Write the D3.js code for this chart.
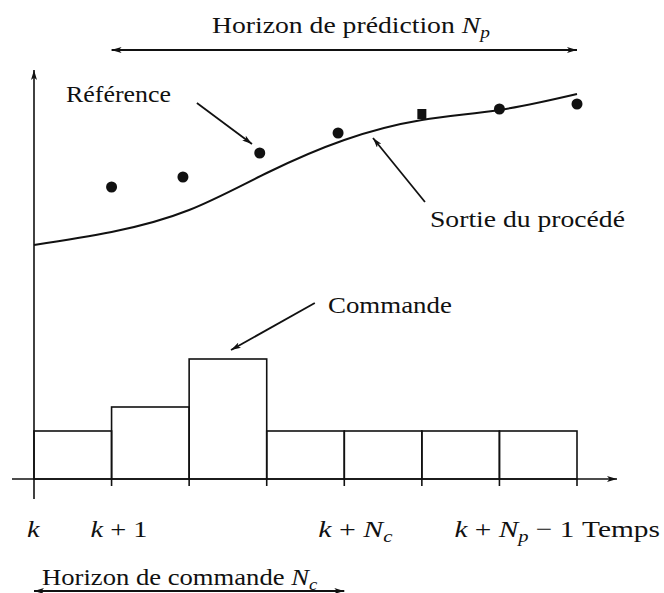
<!DOCTYPE html>
<html>
<head>
<meta charset="utf-8">
<script src="https://cdn.jsdelivr.net/npm/d3@7"></script>
<style>
  html, body { margin: 0; padding: 0; background: #fff; }
  svg { display: block; }
  text { white-space: pre; }
</style>
</head>
<body>
<svg id="chart" width="664" height="593"></svg>
<script>
// ---------------- DATA ----------------
// time steps k, k+1, ... k+Np  (index 0..7)
const tickTimes = [0, 1, 2, 3, 4, 5, 6, 7];
// tick labels (rich parts): i = italic, sub = subscript
const tickLabels = [
  { time: 0, parts: [{ t: "k", i: true }] },
  { time: 1, parts: [{ t: "k", i: true }, { t: " + 1" }] },
  { time: 4, parts: [{ t: "k", i: true }, { t: " + " }, { t: "N", i: true }, { t: "c", i: true, sub: true }] },
  { time: 6, parts: [{ t: "k", i: true }, { t: " + " }, { t: "N", i: true }, { t: "p", i: true, sub: true }, { t: " − 1" }] }
];
const axisName = "Temps";

// control signal (piecewise constant) : value held from t to t+1
const commandTimes  = [0, 1, 2, 3, 4, 5, 6];
const commandValues = [4.8, 7.2, 12.0, 4.8, 4.8, 4.8, 4.8];

// process output (smooth curve)
const outputTimes  = [0, 1, 2, 3, 4, 5, 6, 7];
const outputValues = [23.4, 24.7, 26.9, 30.6, 33.9, 35.9, 36.9, 38.5];

// reference trajectory points
const refTimes  = [1, 1.92, 2.91, 3.92, 5, 6, 7];
const refValues = [29.2, 30.2, 32.6, 34.6, 36.5, 37.0, 37.5];
const refShapes = ["circle", "circle", "circle", "circle", "square", "circle", "circle"];

// horizons (in time steps)
const predictionHorizon = [1, 7];
const controlHorizon    = [0, 4];

// annotation arrows (from [t, v] to [t, v])
const annotArrows = [
  { name: "Référence",          from: [2.10, 37.6], to: [2.81, 33.5] },
  { name: "Sortie du procédé",  from: [5.04, 27.7], to: [4.37, 34.1] },
  { name: "Commande",           from: [3.62, 17.6], to: [2.54, 12.9] }
];

// ---------------- LAYOUT ----------------
const W = 664, H = 593;
const serif = "'Liberation Serif', 'Times New Roman', serif";
const ink = "#111";

const svg = d3.select("#chart");
svg.append("rect").attr("width", W).attr("height", H).attr("fill", "#fff");

const x = d3.scaleLinear().domain([0, 7]).range([34, 577]);
const y = d3.scaleLinear().domain([0, 40]).range([479, 79]);

// arrowhead markers
const defs = svg.append("defs");
defs.append("marker")
  .attr("id", "ah").attr("viewBox", "0 0 10 6").attr("refX", 10).attr("refY", 3)
  .attr("markerWidth", 10).attr("markerHeight", 6).attr("markerUnits", "userSpaceOnUse")
  .attr("orient", "auto-start-reverse")
  .append("path").attr("d", "M0,0 L10,3 L0,6 L2.5,3 Z").attr("fill", ink);

// ---- axes ----
const x0 = x(0), yBase = y(0);
svg.append("line")
  .attr("x1", x0).attr("x2", x0).attr("y1", yBase + 20).attr("y2", 70)
  .attr("stroke", ink).attr("stroke-width", 1.6).attr("marker-end", "url(#ah)");
svg.append("line")
  .attr("x1", 12).attr("x2", 617).attr("y1", yBase).attr("y2", yBase)
  .attr("stroke", ink).attr("stroke-width", 1.6).attr("marker-end", "url(#ah)");
svg.append("g").selectAll("line").data(tickTimes.filter(t => t > 0)).join("line")
  .attr("x1", d => x(d)).attr("x2", d => x(d))
  .attr("y1", yBase).attr("y2", yBase + 7)
  .attr("stroke", ink).attr("stroke-width", 1.6);

// ---- command bars ----
svg.append("g").selectAll("rect").data(commandTimes).join("rect")
  .attr("x", (d) => x(d))
  .attr("width", (d) => x(d + 1) - x(d))
  .attr("y", (d, i) => y(commandValues[i]))
  .attr("height", (d, i) => yBase - y(commandValues[i]))
  .attr("fill", "none").attr("stroke", ink).attr("stroke-width", 1.6);

// ---- process output curve ----
const line = d3.line().x(d => x(d[0])).y(d => y(d[1])).curve(d3.curveNatural);
svg.append("path")
  .datum(outputTimes.map((t, i) => [t, outputValues[i]]))
  .attr("d", line).attr("fill", "none").attr("stroke", ink).attr("stroke-width", 2);

// ---- reference points ----
const refData = refTimes.map((t, i) => ({ t, v: refValues[i], s: refShapes[i] }));
svg.append("g").selectAll("circle").data(refData.filter(d => d.s === "circle")).join("circle")
  .attr("cx", d => x(d.t)).attr("cy", d => y(d.v)).attr("r", 5.5).attr("fill", ink);
svg.append("g").selectAll("rect").data(refData.filter(d => d.s === "square")).join("rect")
  .attr("x", d => x(d.t) - 4.5).attr("y", d => y(d.v) - 5).attr("width", 9).attr("height", 10).attr("fill", ink);

// ---- annotation arrows ----
svg.append("g").selectAll("line").data(annotArrows).join("line")
  .attr("x1", d => x(d.from[0])).attr("y1", d => y(d.from[1]))
  .attr("x2", d => x(d.to[0])).attr("y2", d => y(d.to[1]))
  .attr("stroke", ink).attr("stroke-width", 1.8).attr("marker-end", "url(#ah)");

// ---- horizon arrows ----
function hArrow(t0, t1, yy) {
  svg.append("line")
    .attr("x1", x(t0)).attr("x2", x(t1)).attr("y1", yy).attr("y2", yy)
    .attr("stroke", ink).attr("stroke-width", 1.8)
    .attr("marker-start", "url(#ah)").attr("marker-end", "url(#ah)");
}
hArrow(predictionHorizon[0], predictionHorizon[1], 50);
hArrow(controlHorizon[0], controlHorizon[1], 591);

// ---- text helper: rich text fitted to a width ----
function label(parts, px, py, width, size) {
  const fs = size || 24;
  const t = svg.append("text")
    .style("font-family", serif).attr("font-size", fs).attr("fill", ink);
  let shift = 0;
  parts.forEach(p => {
    const ts = t.append("tspan").text(p.t);
    if (p.i) ts.attr("font-style", "italic");
    const target = p.sub ? 5 : 0;
    if (target !== shift) { ts.attr("dy", target - shift); shift = target; }
    if (p.sub) ts.attr("font-size", fs * 0.7);
  });
  const bb = t.node().getBBox();
  const sx = width ? width / bb.width : 1;
  t.attr("transform", `translate(${px},${py}) scale(${sx},1) translate(${-bb.x},0)`);
  return t;
}

label([{ t: "Horizon de prédiction " }, { t: "N", i: true }, { t: "p", i: true, sub: true }], 212, 33, 278);
label([{ t: "Référence" }], 66, 102, 105);
label([{ t: "Sortie du procédé" }], 430, 227, 195);
label([{ t: "Commande" }], 328, 313, 124);
label([{ t: "Horizon de commande " }, { t: "N", i: true }, { t: "c", i: true, sub: true }], 42, 585, 276);

// tick labels: left edge offset relative to the tick, and fitted width
const tickLabelLayout = { 0: [-7, 13], 1: [-21, 57], 4: [-26, 75], 6: [-45, 120] };
tickLabels.forEach(d => {
  const [dx, w] = tickLabelLayout[d.time];
  label(d.parts, x(d.time) + dx, 537, w);
});
label([{ t: axisName }], 582, 537, 78);
</script>
</body>
</html>
